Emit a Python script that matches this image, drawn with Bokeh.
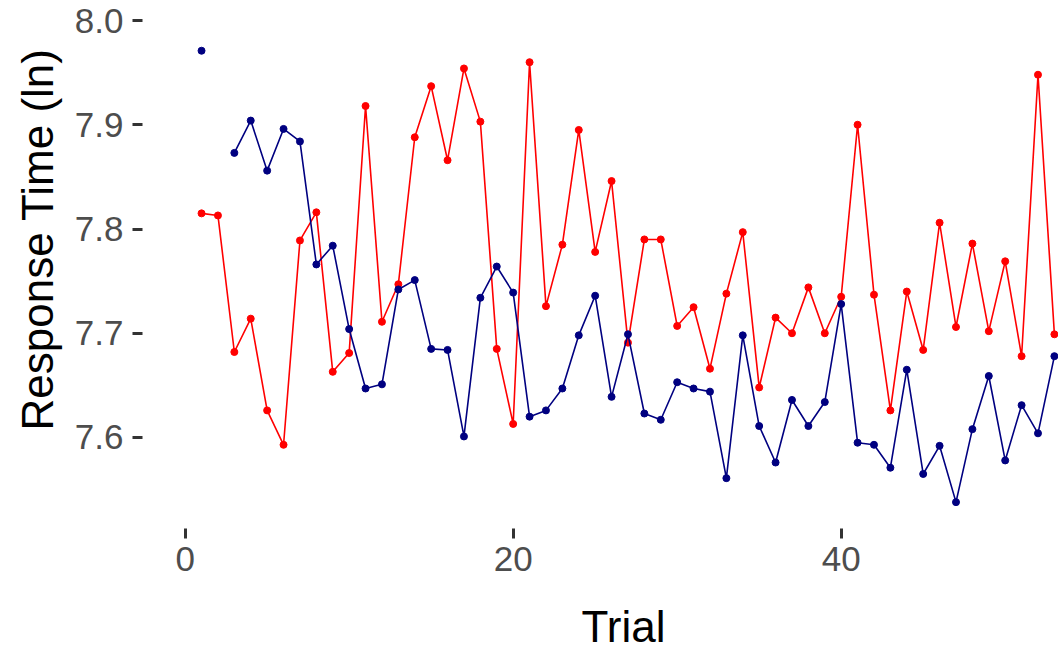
import math
from bokeh.plotting import figure
from bokeh.models import Title, FixedTicker, PrintfTickFormatter, Range1d, LinearAxis
from bokeh.embed import file_html
from bokeh.resources import INLINE

trials = list(range(1, 54))
red_rt = [7.815, 7.813, 7.682, 7.714, 7.626, 7.593, 7.789, 7.816, 7.663, 7.681,
          7.918, 7.711, 7.747, 7.888, 7.937, 7.866, 7.954, 7.903, 7.685, 7.613,
          7.960, 7.726, 7.785, 7.895, 7.778, 7.846, 7.691, 7.790, 7.790, 7.707,
          7.725, 7.666, 7.738, 7.797, 7.648, 7.715, 7.700, 7.744, 7.700, 7.735,
          7.900, 7.737, 7.626, 7.740, 7.684, 7.806, 7.706, 7.786, 7.702, 7.769,
          7.678, 7.948, 7.699]
blue_rt = [7.971, float("nan"), 7.873, 7.904, 7.856, 7.896, 7.884, 7.766, 7.784, 7.704,
           7.647, 7.651, 7.742, 7.751, 7.685, 7.684, 7.601, 7.734, 7.764, 7.739,
           7.620, 7.626, 7.647, 7.698, 7.736, 7.639, 7.699, 7.623, 7.617, 7.653,
           7.647, 7.644, 7.561, 7.698, 7.611, 7.576, 7.636, 7.611, 7.634, 7.728,
           7.595, 7.593, 7.571, 7.665, 7.565, 7.592, 7.538, 7.608, 7.659, 7.578,
           7.631, 7.604, 7.678]
x_ticks = [0, 20, 40]
y_ticks = [7.6, 7.7, 7.8, 7.9, 8.0]
x_title = "Trial"
y_title = "Response Time (ln)"

RED = "#FF0000"
BLUE = "#000080"
FONT = "Liberation Sans"

p = figure(width=1058, height=652,
           x_range=Range1d(-2.6, 53.25), y_range=Range1d(7.5127, 8.0192),
           output_backend="svg", toolbar_location=None,
           min_border_left=142, min_border_bottom=124,
           min_border_top=0, min_border_right=0)
p.outline_line_color = None
p.background_fill_color = "white"
p.border_fill_color = "white"
p.xgrid.visible = False
p.ygrid.visible = False

p.line(trials, red_rt, line_color=RED, line_width=1.6)
p.scatter(trials, red_rt, size=7, fill_color=RED, line_color=RED)
p.line(trials, blue_rt, line_color=BLUE, line_width=1.6)
p.scatter(trials, blue_rt, size=7, fill_color=BLUE, line_color=BLUE)

for ax in (p.xaxis[0], p.yaxis[0]):
    ax.axis_line_color = None
    ax.major_tick_in = 0
    ax.major_tick_out = 10
    ax.major_tick_line_color = "#333333"
    ax.major_tick_line_width = 3
    ax.minor_tick_line_color = None
    ax.major_label_text_font = FONT
    ax.major_label_text_font_size = "35px"
    ax.major_label_text_color = "#4D4D4D"

p.xaxis.ticker = FixedTicker(ticks=x_ticks)
p.yaxis.ticker = FixedTicker(ticks=y_ticks)
p.yaxis.formatter = PrintfTickFormatter(format="%.1f")
p.yaxis.major_label_standoff = 9
p.xaxis.major_label_standoff = 8

# invisible spacer axis (white tick on white, no label) that pushes the x title down
spacer = LinearAxis(ticker=FixedTicker(ticks=[x_ticks[0]]), axis_line_color=None,
                    major_tick_in=0, major_tick_out=26, minor_tick_in=0,
                    minor_tick_out=0, major_label_standoff=0,
                    major_label_overrides={x_ticks[0]: ""},
                    major_label_text_font_size="1px",
                    major_tick_line_color="white", minor_tick_line_color=None)
p.add_layout(spacer, "below")

ytitle = Title(text=y_title, align="left", offset=98,
               text_font=FONT, text_font_size="44px", text_font_style="normal",
               text_color="black", standoff=20)
p.add_layout(ytitle, "left")
xtitle = Title(text=x_title, align="left", offset=439,
               text_font=FONT, text_font_size="44px", text_font_style="normal",
               text_color="black", standoff=0)
p.add_layout(xtitle, "below")

open("out.html", "w").write(file_html(p, INLINE))
